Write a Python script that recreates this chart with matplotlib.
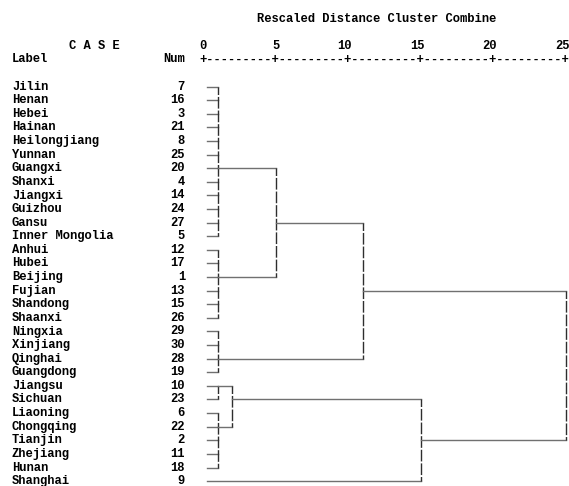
import matplotlib.pyplot as plt
import matplotlib.transforms as mtransforms

# cases in dendrogram order
labels = ["Jilin", "Henan", "Hebei", "Hainan", "Heilongjiang", "Yunnan",
          "Guangxi", "Shanxi", "Jiangxi", "Guizhou", "Gansu", "Inner Mongolia",
          "Anhui", "Hubei", "Beijing", "Fujian", "Shandong", "Shaanxi",
          "Ningxia", "Xinjiang", "Qinghai", "Guangdong", "Jiangsu", "Sichuan",
          "Liaoning", "Chongqing", "Tianjin", "Zhejiang", "Hunan", "Shanghai"]
nums = [7, 16, 3, 21, 8, 25, 20, 4, 14, 24, 27, 5, 12, 17, 1, 13, 15, 26,
        29, 30, 28, 19, 10, 23, 6, 22, 2, 11, 18, 9]

# first-level groups: (first row, last row, join distance, row of outgoing line)
leaf_groups = {
    "A": (0, 11, 1.0, 6),
    "B": (12, 17, 1.0, 14),
    "C": (18, 21, 1.0, 20),
    "D": (22, 23, 1.0, 22),
    "E": (24, 28, 1.0, 25),
    "S": (29, 29, 0.28, 29),
}
# merges: name -> (children, join distance, row of outgoing line)
merges = {
    "AB": (["A", "B"], 5.0, 10),
    "ABC": (["AB", "C"], 11.0, 15),
    "DE": (["D", "E"], 2.0, 23),
    "DES": (["DE", "S"], 15.0, 26),
    "root": (["ABC", "DES"], 25.0, None),
}
ticks = [0, 5, 10, 15, 20, 25]

stub_start = 0.28
hcol = "#707070"
vcol = "#2e2e2e"
vdash = (3.0, (8.4, 1.4))
font = dict(family="Liberation Mono", weight="bold", size=8.7, color="black")

fig = plt.figure(figsize=(5.69, 4.86), dpi=100)
ax = fig.add_axes([203 / 569, 0, 363 / 569, 1])
ax.set_xlim(0, 25)
ax.set_ylim((486 - 86.7) / 13.6, -86.7 / 13.6)
ax.axis("off")

height = {}
outrow = {}
for name, (r0, r1, d, out) in leaf_groups.items():
    height[name] = d
    outrow[name] = out
    for r in range(r0, r1 + 1):
        ax.plot([stub_start, d], [r, r], color=hcol, lw=1.0, clip_on=False)
    if r1 > r0:
        ax.plot([d, d], [r0, r1], color=vcol, lw=1.0, linestyle=vdash, clip_on=False)

for name, (children, d, out) in merges.items():
    height[name] = d
    outrow[name] = out
    rows = [outrow[c] for c in children]
    for c in children:
        ax.plot([height[c], d], [outrow[c], outrow[c]], color=hcol, lw=1.0, clip_on=False)
    ax.plot([d, d], [min(rows), max(rows)], color=vcol, lw=1.0, linestyle=vdash, clip_on=False)

# case labels and numbers
tr = mtransforms.blended_transform_factory(fig.transFigure, ax.transData)
for i, (lab, n) in enumerate(zip(labels, nums)):
    ax.text(12 / 569, i, lab, transform=tr, ha="left", va="center", **font)
    ax.text(185 / 569, i, str(n), transform=tr, ha="right", va="center", **font)

# header, SPSS text style
ax.text(257 / 569, -5, "Rescaled Distance Cluster Combine", transform=tr,
        ha="left", va="center", **font)
ax.text(69 / 569, -3, "C A S E", transform=tr, ha="left", va="center", **font)
ax.text(12 / 569, -2, "Label", transform=tr, ha="left", va="center", **font)
ax.text(185 / 569, -2, "Num", transform=tr, ha="right", va="center", **font)
for t in ticks:
    ax.text(t + 0.25, -3, str(t), ha="right", va="center", **font)
rule = "+" + "+".join(["-" * 9] * (len(ticks) - 1)) + "+"
ax.text(ticks[0] - 0.25, -2, rule, ha="left", va="center", **font)

fig.savefig("out.png", dpi=100)
